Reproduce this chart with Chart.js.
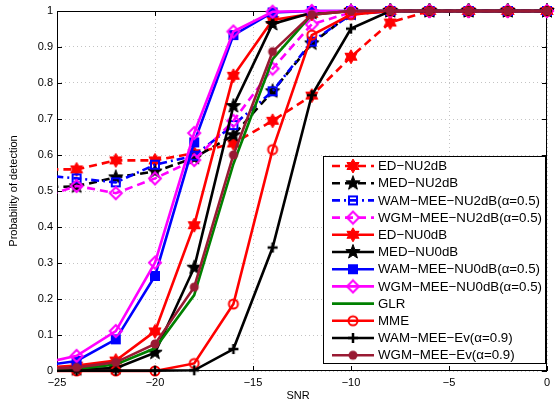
<!DOCTYPE html>
<html>
<head>
<meta charset="utf-8">
<script src="https://cdn.jsdelivr.net/npm/chart.js@4.4.1/dist/chart.umd.min.js"></script>
<style>
  html, body { margin: 0; padding: 0; background: #fff; }
  #wrap { width: 559px; height: 405px; }
</style>
</head>
<body>
<div id="wrap"><canvas id="c" width="559" height="405"></canvas></div>
<script>
// SNR grid (dB) and detection probabilities for each detector
const snr = [-26, -24, -22, -20, -18, -16, -14, -12, -10, -8, -6, -4, -2, 0];

const edNu2  = [0.560, 0.560, 0.585, 0.585, 0.605, 0.632, 0.695, 0.765, 0.873, 0.968, 1, 1, 1, 1];
const medNu2 = [0.510, 0.513, 0.538, 0.554, 0.592, 0.655, 0.777, 0.910, 0.993, 1, 1, 1, 1, 1];
const wamNu2 = [0.545, 0.535, 0.524, 0.573, 0.598, 0.683, 0.777, 0.915, 0.990, 1, 1, 1, 1, 1];
const wgmNu2 = [0.478, 0.514, 0.494, 0.535, 0.586, 0.695, 0.840, 0.963, 0.996, 1, 1, 1, 1, 1];
const edNu0  = [0.008, 0.015, 0.029, 0.110, 0.405, 0.820, 0.975, 0.992, 1, 1, 1, 1, 1, 1];
const medNu0 = [0.002, 0.005, 0.008, 0.051, 0.287, 0.736, 0.964, 0.995, 1, 1, 1, 1, 1, 1];
const wamNu0 = [0.012, 0.028, 0.088, 0.264, 0.635, 0.933, 0.996, 1, 1, 1, 1, 1, 1, 1];
const wgmNu0 = [0.018, 0.042, 0.111, 0.301, 0.661, 0.943, 0.998, 1, 1, 1, 1, 1, 1, 1];
const glr    = [0.003, 0.006, 0.018, 0.063, 0.211, 0.575, 0.866, 0.990, 1, 1, 1, 1, 1, 1];
const mme    = [0, 0, 0, 0, 0.021, 0.186, 0.615, 0.933, 0.990, 1, 1, 1, 1, 1];
const wamEv  = [0, 0.001, 0.001, 0.001, 0.002, 0.061, 0.343, 0.766, 0.951, 1, 1, 1, 1, 1];
const wgmEv  = [0.006, 0.010, 0.024, 0.075, 0.233, 0.600, 0.887, 0.990, 1, 1, 1, 1, 1, 1];

const xTicks = [-25, -20, -15, -10, -5, 0];
const yTicks = [0, 0.1, 0.2, 0.3, 0.4, 0.5, 0.6, 0.7, 0.8, 0.9, 1];

const FONT = '"Liberation Sans", Arial, Helvetica, sans-serif';

// ---- marker glyphs drawn onto small canvases ----
function glyph(size, draw) {
  const c = document.createElement('canvas');
  c.width = size; c.height = size;
  const g = c.getContext('2d');
  g.translate(size / 2, size / 2);
  draw(g);
  return c;
}
function starPath(g, n, rOut, rIn) {
  g.beginPath();
  for (let i = 0; i < 2 * n; i++) {
    const r = i % 2 ? rIn : rOut;
    const a = -Math.PI / 2 + i * Math.PI / n;
    g.lineTo(r * Math.cos(a), r * Math.sin(a));
  }
  g.closePath();
}
const hexagram = col => glyph(18, g => {
  starPath(g, 6, 7, 7 / Math.sqrt(3));
  g.fillStyle = col; g.fill();
  g.strokeStyle = col; g.lineWidth = 1; g.stroke();
});
const pentagram = col => glyph(18, g => {
  starPath(g, 5, 7.5, 3.1);
  g.fillStyle = col; g.fill();
  g.strokeStyle = col; g.lineWidth = 1; g.stroke();
});
const square = (col, filled) => glyph(14, g => {
  g.beginPath(); g.rect(-4, -4, 8, 8);
  if (filled) { g.fillStyle = col; g.fill(); }
  g.strokeStyle = col; g.lineWidth = 2; g.stroke();
});
const diamond = col => glyph(16, g => {
  g.beginPath(); g.moveTo(0, -6); g.lineTo(6, 0); g.lineTo(0, 6); g.lineTo(-6, 0); g.closePath();
  g.strokeStyle = col; g.lineWidth = 2; g.stroke();
});
const ring = col => glyph(14, g => {
  g.beginPath(); g.arc(0, 0, 4.5, 0, Math.PI * 2);
  g.strokeStyle = col; g.lineWidth = 2; g.stroke();
});
const plus = col => glyph(14, g => {
  g.beginPath(); g.moveTo(-5, 0); g.lineTo(5, 0); g.moveTo(0, -5); g.lineTo(0, 5);
  g.strokeStyle = col; g.lineWidth = 2.5; g.stroke();
});
const dot = col => glyph(14, g => {
  g.beginPath(); g.arc(0, 0, 4.5, 0, Math.PI * 2);
  g.fillStyle = col; g.fill();
});

const RED = '#ff0000', BLACK = '#000000', BLUE = '#0000ff', MAG = '#ff00ff',
      GREEN = '#008000', BROWN = '#991a33';

const series = [
  { label: 'ED\u2212NU2dB', data: edNu2, color: RED, dash: [8, 5], mark: hexagram(RED) },
  { label: 'MED\u2212NU2dB', data: medNu2, color: BLACK, dash: [8, 5], mark: pentagram(BLACK) },
  { label: 'WAM\u2212MEE\u2212NU2dB(\u03b1=0.5)', data: wamNu2, color: BLUE, dash: [8, 4, 2, 4], mark: square(BLUE, false) },
  { label: 'WGM\u2212MEE\u2212NU2dB(\u03b1=0.5)', data: wgmNu2, color: MAG, dash: [8, 5], mark: diamond(MAG) },
  { label: 'ED\u2212NU0dB', data: edNu0, color: RED, dash: [], mark: hexagram(RED) },
  { label: 'MED\u2212NU0dB', data: medNu0, color: BLACK, dash: [], mark: pentagram(BLACK) },
  { label: 'WAM\u2212MEE\u2212NU0dB(\u03b1=0.5)', data: wamNu0, color: BLUE, dash: [], mark: square(BLUE, true) },
  { label: 'WGM\u2212MEE\u2212NU0dB(\u03b1=0.5)', data: wgmNu0, color: MAG, dash: [], mark: diamond(MAG) },
  { label: 'GLR', data: glr, color: GREEN, dash: [], mark: null },
  { label: 'MME', data: mme, color: RED, dash: [], mark: ring(RED) },
  { label: 'WAM\u2212MEE\u2212Ev(\u03b1=0.9)', data: wamEv, color: BLACK, dash: [], mark: plus(BLACK) },
  { label: 'WGM\u2212MEE\u2212Ev(\u03b1=0.9)', data: wgmEv, color: BROWN, dash: [], mark: dot(BROWN) }
];

const datasets = series.map((s, i) => ({
  label: s.label,
  data: snr.map((x, k) => ({ x: x, y: s.data[k] })),
  borderColor: s.color,
  backgroundColor: s.color,
  borderWidth: 2.6,
  borderDash: s.dash,
  pointStyle: s.mark || 'circle',
  pointRadius: s.mark ? 6 : 0,
  pointHoverRadius: s.mark ? 6 : 0,
  tension: 0,
  fill: false,
  clip: { left: 0, right: 10, top: 10, bottom: 10 },
  order: series.length - i   // later series drawn on top
}));

// Frame with inward ticks on all four sides, axis titles and the inset legend
const framePlugin = {
  id: 'frame',
  beforeDatasetsDraw(chart) {
    const { ctx, chartArea: a, scales: { x, y } } = chart;
    ctx.save();
    ctx.strokeStyle = '#000'; ctx.lineWidth = 1; ctx.setLineDash([]);
    ctx.strokeRect(a.left + 0.5, a.top + 0.5, a.right - a.left - 1, a.bottom - a.top - 1);
    ctx.beginPath();
    const L = 5;
    xTicks.forEach(v => {
      const px = Math.round(x.getPixelForValue(v)) + 0.5;
      ctx.moveTo(px, a.bottom); ctx.lineTo(px, a.bottom - L);
      ctx.moveTo(px, a.top); ctx.lineTo(px, a.top + L);
    });
    yTicks.forEach(v => {
      const py = Math.round(y.getPixelForValue(v)) + 0.5;
      ctx.moveTo(a.left, py); ctx.lineTo(a.left + L, py);
      ctx.moveTo(a.right, py); ctx.lineTo(a.right - L, py);
    });
    ctx.stroke();
    ctx.restore();
  },
  afterDraw(chart) {
    const { ctx, chartArea: a } = chart;
    ctx.save();
    ctx.fillStyle = '#000';
    ctx.font = '11px ' + FONT;
    ctx.textAlign = 'center'; ctx.textBaseline = 'middle';
    ctx.fillText('SNR', (a.left + a.right) / 2 - 4, 396);
    ctx.translate(14, (a.top + a.bottom) / 2);
    ctx.rotate(-Math.PI / 2);
    ctx.fillText('Probability of detection', 0, 0);
    ctx.restore();

    // legend box
    const bx = 323, by = 156, bw = 222, bh = 207, row = 17.2, first = 166;
    ctx.save();
    ctx.fillStyle = '#fff';
    ctx.fillRect(bx, by, bw, bh);
    ctx.strokeStyle = '#000'; ctx.lineWidth = 1;
    ctx.strokeRect(bx + 0.5, by + 0.5, bw, bh);
    ctx.font = '13.3px ' + FONT;
    ctx.textAlign = 'left'; ctx.textBaseline = 'middle';
    series.forEach((s, i) => {
      const cy = first + i * row;
      ctx.beginPath();
      ctx.setLineDash(s.dash);
      ctx.lineDashOffset = 0;
      ctx.strokeStyle = s.color; ctx.lineWidth = 2.6;
      ctx.moveTo(332, cy); ctx.lineTo(374, cy);
      ctx.stroke();
      ctx.setLineDash([]);
      if (s.mark) ctx.drawImage(s.mark, 353 - s.mark.width / 2, cy - s.mark.height / 2);
      ctx.fillStyle = '#000';
      ctx.fillText(s.label, 378, cy + 0.5);
    });
    ctx.restore();
  }
};

new Chart(document.getElementById('c'), {
  type: 'line',
  data: { datasets },
  options: {
    responsive: false,
    animation: false,
    events: [],
    layout: { padding: { top: 11, right: 12, left: 0, bottom: 0 } },
    plugins: { legend: { display: false }, tooltip: { enabled: false } },
    scales: {
      x: {
        type: 'linear', min: -25, max: 0,
        afterFit: s => { s.height = 34; },
        afterBuildTicks: s => { s.ticks = xTicks.map(v => ({ value: v })); },
        ticks: {
          color: '#000', padding: 5, maxRotation: 0,
          font: { size: 11, family: FONT },
          callback: v => (v < 0 ? '\u2212' + (-v) : String(v))
        },
        grid: { color: '#c4c4c4', lineWidth: 1, drawTicks: false },
        border: { display: false, dash: [1, 3] }
      },
      y: {
        type: 'linear', min: 0, max: 1,
        afterFit: s => { s.width = 57; },
        afterBuildTicks: s => { s.ticks = yTicks.map(v => ({ value: v })); },
        ticks: {
          color: '#000', padding: 4,
          font: { size: 11, family: FONT },
          callback: v => String(Math.round(v * 10) / 10)
        },
        grid: { color: '#c4c4c4', lineWidth: 1, drawTicks: false },
        border: { display: false, dash: [1, 3] }
      }
    }
  },
  plugins: [framePlugin]
});
</script>
</body>
</html>
